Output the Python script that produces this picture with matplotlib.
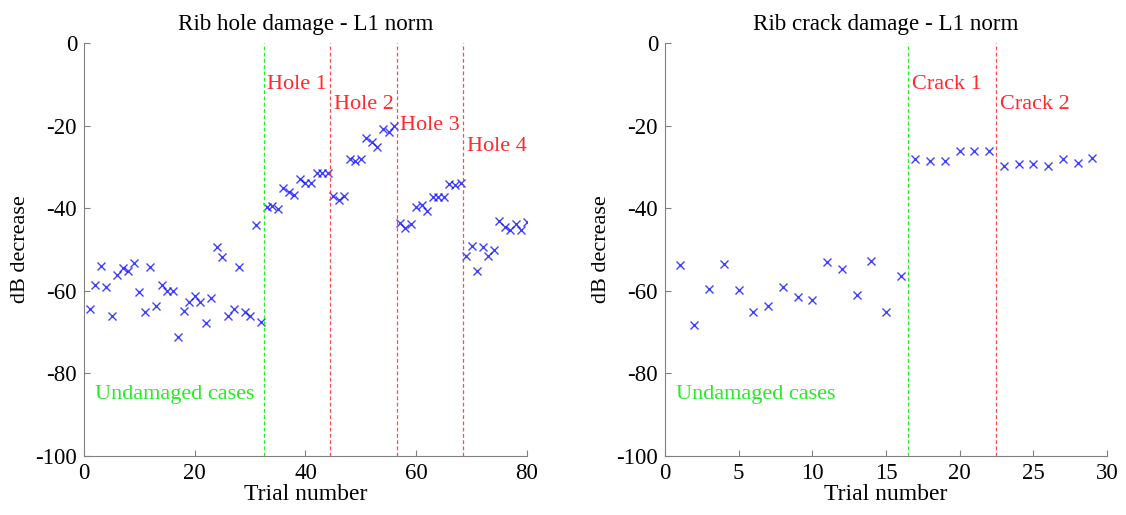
import matplotlib

matplotlib.use("Agg")
import matplotlib.pyplot as plt

# Rib hole damage (trials 1-80)
hole_trials = list(range(1, 81))
hole_db = [
    -64.5, -58.6, -53.9, -59.0, -66.1, -56.2, -54.4, -55.1, -53.3, -60.3,
    -65.1, -54.3, -63.8, -58.7, -60.0, -60.0, -71.1, -64.8, -62.6, -61.3,
    -62.7, -67.9, -61.8, -49.3, -51.9, -66.1, -64.5, -54.2, -65.1, -66.1,
    -44.1, -67.6, -39.8, -39.5, -40.3, -35.2, -36.0, -36.8, -33.0, -34.0,
    -34.0, -31.4, -31.4, -31.6, -37.0, -38.0, -37.0, -28.2, -28.7, -28.2,
    -23.1, -23.9, -25.3, -20.9, -21.5, -20.1, -43.7, -44.9, -43.8, -39.8,
    -39.2, -40.6, -37.4, -37.4, -37.4, -34.2, -34.5, -34.0, -51.6, -49.1,
    -55.1, -49.5, -51.7, -50.1, -43.1, -44.5, -45.3, -43.8, -45.3, -43.3,
]
hole_bounds = [32.5, 44.5, 56.5, 68.5]
hole_labels = ["Hole 1", "Hole 2", "Hole 3", "Hole 4"]
hole_label_y = [-10, -15, -20, -25]

# Rib crack damage (trials 1-29)
crack_trials = list(range(1, 30))
crack_db = [
    -53.7, -68.3, -59.6, -53.5, -59.8, -65.2, -63.8, -59.2, -61.6, -62.2,
    -53.1, -54.8, -61.0, -52.9, -65.1, -56.4, -28.2, -28.7, -28.5, -26.1,
    -26.1, -26.1, -29.8, -29.3, -29.3, -29.8, -28.1, -29.0, -27.9,
]
crack_bounds = [16.5, 22.5]
crack_labels = ["Crack 1", "Crack 2"]
crack_label_y = [-10, -15]

plt.rcParams["font.family"] = ["Liberation Serif", "DejaVu Serif"]
plt.rcParams["font.size"] = 16
plt.rcParams["axes.unicode_minus"] = False

GREEN = "#22ee22"
RED = "#ff2a2a"
SPINE = "#808080"


def draw_panel(ax, trials, values, bounds, labels, label_y, xmax, xticks, title):
    ax.plot(trials, values, "x", color="blue", ms=6, mew=1.0, alpha=0.75, ls="none")
    ax.axvline(bounds[0], color=GREEN, ls="--", lw=0.9, dashes=(3, 2))
    for b in bounds[1:]:
        ax.axvline(b, color=RED, ls="--", lw=0.9, alpha=0.85, dashes=(3, 2))
    for b, lab, y in zip(bounds, labels, label_y):
        ax.text(b + 0.008 * xmax, y, lab, color=RED, va="center", ha="left")
    ax.text(0.025 * xmax, -85, "Undamaged cases", color=GREEN, va="center", ha="left")
    ax.set_xlim(0, xmax)
    ax.set_ylim(-100, 0)
    ax.set_xticks(xticks)
    ax.set_yticks([-100, -80, -60, -40, -20, 0])
    ax.set_xlabel("Trial number", fontsize=17, labelpad=0)
    ax.set_ylabel("dB decrease", fontsize=16, labelpad=4)
    ax.set_title(title, fontsize=16.6, pad=9)
    ax.spines[["top", "right"]].set_visible(False)
    ax.spines[["left", "bottom"]].set_color(SPINE)
    ax.tick_params(direction="in", length=4, color=SPINE, pad=5, labelsize=16.5)


fig = plt.figure(figsize=(11.26, 5.15), dpi=100)
ax1 = fig.add_axes([0.0746, 0.1146, 0.3934, 0.802])
ax2 = fig.add_axes([0.5906, 0.1146, 0.3925, 0.802])

draw_panel(ax1, hole_trials, hole_db, hole_bounds, hole_labels, hole_label_y,
           80, [0, 20, 40, 60, 80], "Rib hole damage - L1 norm")
draw_panel(ax2, crack_trials, crack_db, crack_bounds, crack_labels, crack_label_y,
           30, [0, 5, 10, 15, 20, 25, 30], "Rib crack damage - L1 norm")

fig.savefig("out.png", dpi=100)
plt.close(fig)
